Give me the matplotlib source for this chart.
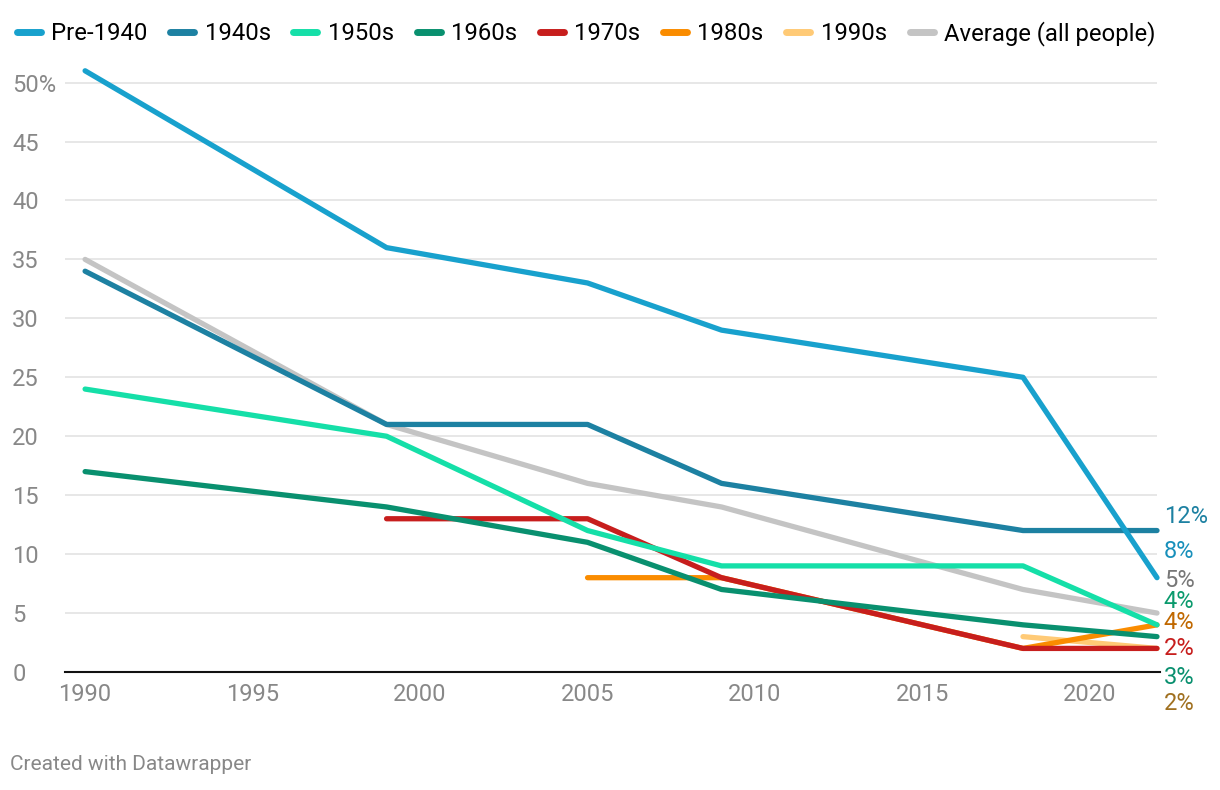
import numpy as np
import matplotlib
matplotlib.use("Agg")
import matplotlib.pyplot as plt
from matplotlib.lines import Line2D

plt.rcParams['font.family'] = ['Roboto', 'DejaVu Sans']

# data
years = [1990, 1999, 2005, 2009, 2018, 2022]
names = ['Pre-1940', '1940s', '1950s', '1960s', '1970s', '1980s', '1990s', 'Average (all people)']
values = {
    'Pre-1940': [51, 36, 33, 29, 25, 8],
    '1940s': [34, 21, 21, 16, 12, 12],
    '1950s': [24, 20, 12, 9, 9, 4],
    '1960s': [17, 14, 11, 7, 4, 3],
    '1970s': [None, 13, 13, 8, 2, 2],
    '1980s': [None, None, 8, 8, 2, 4],
    '1990s': [None, None, None, None, 3, 2],
    'Average (all people)': [35, 21, 16, 14, 7, 5],
}
colors = ['#18a1cd', '#1d81a2', '#15dfa8', '#09906f', '#c71e1d', '#fa8c00', '#ffca76', '#c4c4c4']

# end labels: text, y position, colour
end_labels = ['12%', '8%', '5%', '4%', '4%', '2%', '3%', '2%']
end_label_y = [13.2, 10.2, 7.8, 6.0, 4.2, 2.0, -0.5, -2.7]
end_label_colors = ['#1d81a2', '#1890bb', '#777777', '#0a9a6d', '#c06800', '#c71e1d', '#09906f', '#a07020']

fig = plt.figure(figsize=(12.2, 7.9), dpi=100)
ax = fig.add_axes([65/1220, 1 - 672/790, 1092/1220, (672-59)/790])

n = len(names)
for i, name in enumerate(names):
    x = [y for y, v in zip(years, values[name]) if v is not None]
    y = [v for v in values[name] if v is not None]
    z = 3 + (n - i) if name != 'Average (all people)' else 2
    ax.plot(x, y, color=colors[i], lw=3.8, solid_capstyle='round',
            solid_joinstyle='round', zorder=z, clip_on=False)

ax.set_xlim(1989.4, 2022)
ax.set_ylim(0, 52)

ax.set_yticks(range(0, 55, 5))
ax.set_yticklabels([str(v) if v < 50 else '50%' for v in range(0, 55, 5)])
for lab in ax.get_yticklabels():
    lab.set_horizontalalignment('left')
ax.tick_params(axis='y', length=0, pad=38, labelsize=17, labelcolor='#888888')
ax.set_xticks(range(1990, 2025, 5))
ax.tick_params(axis='x', length=0, pad=8, labelsize=17, labelcolor='#888888')

ax.grid(axis='y', color='#e3e3e3', lw=1.2)
ax.set_axisbelow(True)
for s in ['top', 'right', 'left']:
    ax.spines[s].set_visible(False)
ax.spines['bottom'].set_color('#111111')
ax.spines['bottom'].set_linewidth(1.5)
ax.spines['bottom'].set_bounds(1989.4, 2022.1)

for txt, yy, c in zip(end_labels, end_label_y, end_label_colors):
    ax.text(2022.2, yy, txt, color=c, fontsize=17, va='center', ha='left', clip_on=False)

handles = [Line2D([0], [0], color=c, lw=5, solid_capstyle='round') for c in colors]
fig.legend(handles, names, loc='upper left', bbox_to_anchor=(0.0, 0.995), ncol=8,
           frameon=False, fontsize=17.2, handlelength=1.0, handletextpad=0.44,
           columnspacing=0.95, borderaxespad=0.3)

fig.text(10/1220, 1 - 765/790, 'Created with Datawrapper', fontsize=15,
         color='#888888', va='center', ha='left')

fig.savefig('out.png', dpi=100)
